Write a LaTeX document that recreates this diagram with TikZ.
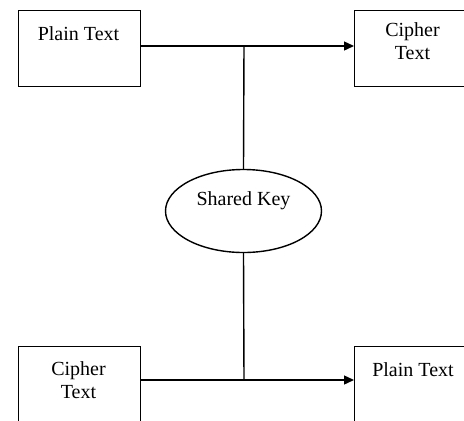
\documentclass[tikz,border=0pt]{standalone}
\usepackage{fontspec}
\setmainfont{Liberation Serif}
\usetikzlibrary{arrows.meta,shapes.geometric}
\tikzset{
  box/.style={draw, line width=1.4pt, minimum width=122pt, minimum height=76pt,
    anchor=north west, inner sep=0pt},
  lbl/.style={align=center, inner sep=0pt, font=\fontsize{20}{23}\selectfont},
  wire/.style={line width=1.4pt},
  flow/.style={wire, -{Triangle[length=10pt, width=9pt]}},
}
\begin{document}
\begin{tikzpicture}[x=1pt, y=-1pt]
  \useasboundingbox (0,0) rectangle (464,421);
  \clip (0,0) rectangle (464,421);

  % boxes
  \node[box] (pt1) at (18,10) {};
  \node[box] (ct1) at (354,10) {};
  \node[box] (ct2) at (18,346) {};
  \node[box] (pt2) at (354,346) {};

  % box texts
  \node[lbl] (pt1t) at (78.5,33.5) {Plain Text};
  \node[lbl] (ct1t) at (412.5,41) {Cipher\\Text};
  \node[lbl] (ct2t) at (78.5,380) {Cipher\\Text};
  \node[lbl] (pt2t) at (413,369.5) {Plain Text};

  % shared key
  \node[ellipse, draw, line width=1.4pt, minimum width=156pt, minimum height=83pt,
        inner sep=0pt] (key) at (243.5,211) {};
  \node[lbl] (keyt) at (243.5,201) {Shared Key};

  % junctions
  \coordinate (jt) at (244,46);
  \coordinate (jb) at (244,380);

  % connectors
  \draw[flow] (pt1.east |- jt) -- (ct1.west |- jt);
  \draw[flow] (ct2.east |- jb) -- (pt2.west |- jb);
  \draw[wire] (jt) -- (key.north);
  \draw[wire] (key.south) -- (jb);
\end{tikzpicture}
\end{document}
